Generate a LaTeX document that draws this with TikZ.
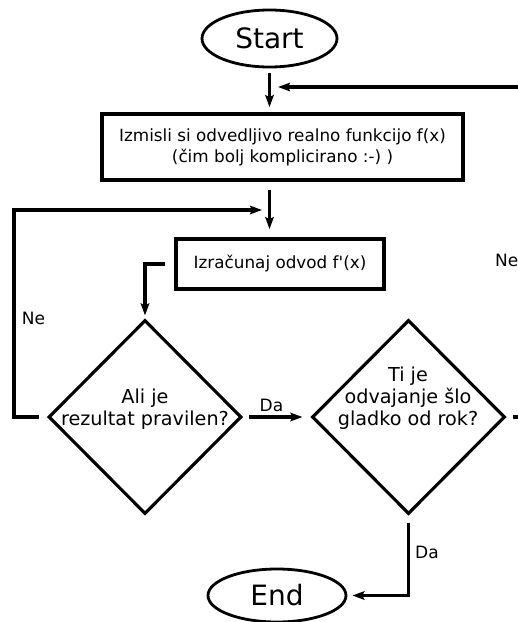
\documentclass[tikz,border=0pt]{standalone}
\usepackage{fontspec}
\setmainfont{DejaVu Sans}[Ligatures=TeXOff]
\usetikzlibrary{shapes.geometric,arrows.meta}
\begin{document}
\begin{tikzpicture}[x=1pt,y=-1pt,
  conn/.style={line width=3.1pt, -{Stealth[length=12pt,width=8.5pt,inset=2pt]}},
  plain/.style={line width=3.1pt},
  term/.style={draw, ellipse, line width=2.8pt, inner sep=0pt, font=\fontsize{28}{32}\selectfont},
  proc/.style={draw, rectangle, line width=3.8pt, inner sep=0pt, align=center, font=\fontsize{16.8}{21}\selectfont},
  dia/.style={draw, diamond, line width=3.1pt, inner sep=0pt, minimum width=193pt, minimum height=194pt},
  dtext/.style={align=center, font=\fontsize{19.2}{22}\selectfont, inner sep=0pt},
  lab/.style={font=\fontsize{17}{20}\selectfont, inner sep=0pt}]
\useasboundingbox (0,0) rectangle (518,622);
\clip (0,0) rectangle (518,622);

\node[term, minimum width=135pt, minimum height=57pt] (start) at (269.5,38.5) {Start};
\node[proc, minimum width=361pt, minimum height=66pt] (box1) at (282.5,147) {Izmisli si odvedljivo realno funkcijo f(x)\\(čim bolj komplicirano :-) )};
\node[proc, minimum width=208pt, minimum height=50pt] (box2) at (280,264) {Izračunaj odvod f'(x)};
\node[dia] (d1) at (145,417) {};
\node[dtext] (t1) at (145,409) {Ali je\\rezultat pravilen?};
\node[dia] (d2) at (408.5,417) {};
\node[dtext] (t2) at (408,398) {Ti je\\odvajanje šlo\\gladko od rok?};
\node[term, minimum width=138pt, minimum height=53pt] (end) at (277,595.5) {End};

\coordinate (inR) at (530,87);
\coordinate (outR) at (530,417);
\coordinate (lc) at (14,0);
\coordinate (lj) at (270,210);

\draw[conn, shorten <=5pt, shorten >=5pt] (start.south) -- (start.south |- box1.north);
\draw[conn, shorten >=8.5pt] (inR) -- (inR -| start.south);
\draw[conn, shorten <=8pt, shorten >=8pt] (box1.south -| start) -- (box2.north -| start);
\draw[conn, shorten <=8pt, shorten >=8pt] (d1.west) -- (d1.west -| lc) |- (lj);
\draw[conn, shorten <=9pt, shorten >=3pt] (box2.west) -| (d1.north);
\draw[conn, shorten <=6pt, shorten >=8pt] (d1.east) -- (d2.west);
\draw[plain, shorten <=6pt] (d2.east) -- (outR);
\draw[conn, shorten <=7pt, shorten >=5pt] (d2.south) |- (end.east);

\node[lab] (ne1) at (33.5,318) {Ne};
\node[lab] (da1) at (271.5,405) {Da};
\node[lab] (da2) at (427,552) {Da};
\node[lab, anchor=west] (ne2) at (495,260) {Ne};
\end{tikzpicture}
\end{document}
